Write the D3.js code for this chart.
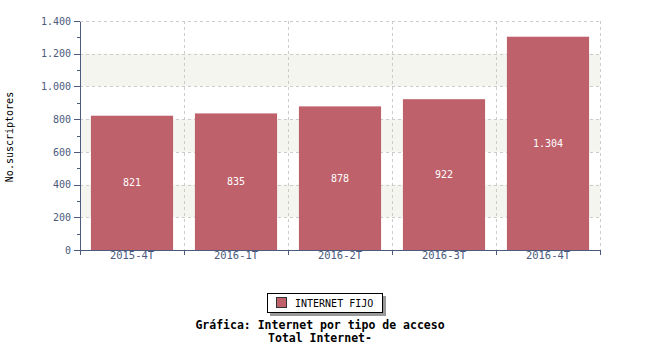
<!DOCTYPE html>
<html>
<head>
<meta charset="utf-8">
<style>
body { margin: 0; background: #fff; }
svg text { font-family: "DejaVu Sans Mono", monospace; }
.axis path, .axis line { stroke: #4b5a7d; shape-rendering: crispEdges; }
.axis text { fill: #4b5a7d; font-size: 10px; }
.grid line { stroke: #cccccc; stroke-dasharray: 3,3; shape-rendering: crispEdges; }
</style>
</head>
<body>
<script src="https://cdn.jsdelivr.net/npm/d3@7"></script>
<script>
var periods = ["2015-4T", "2016-1T", "2016-2T", "2016-3T", "2016-4T"];
var subscribers = [821, 835, 878, 922, 1304];
var yTicks = [0, 200, 400, 600, 800, 1000, 1200, 1400];
var shadedBands = [[200, 400], [600, 800], [1000, 1200]];
var seriesName = "INTERNET FIJO";

var margin = { top: 21, right: 50, bottom: 100, left: 80 };
var width = 650 - margin.left - margin.right;
var height = 350 - margin.top - margin.bottom;

var fmt = function(v) { return d3.format(",")(v).replace(/,/g, "."); };

var svg = d3.select("body").append("svg")
    .attr("width", 650)
    .attr("height", 350);

var g = svg.append("g")
    .attr("transform", "translate(" + margin.left + "," + margin.top + ")");

var x = d3.scaleBand()
  .domain(periods)
  .range([0, width])
  .paddingInner(0.21)
  .paddingOuter(0.105);

var xOuter = d3.scaleBand().domain(periods).range([0, width]);

var y = d3.scaleLinear()
  .domain([0, 1400])
  .range([height, 0]);

// background bands
g.selectAll("rect.band")
  .data(shadedBands)
  .enter().append("rect")
    .attr("class", "band")
    .attr("x", 0)
    .attr("width", width)
    .attr("y", function(d) { return y(d[1]); })
    .attr("height", function(d) { return y(d[0]) - y(d[1]); })
    .style("fill", "#f5f5f0");

// grid
var grid = g.append("g").attr("class", "grid");
grid.selectAll("line.h")
  .data(yTicks.slice(1))
  .enter().append("line")
    .attr("x1", 0).attr("x2", width)
    .attr("y1", function(d) { return Math.round(y(d)) + 0.5; })
    .attr("y2", function(d) { return Math.round(y(d)) + 0.5; });
grid.selectAll("line.v")
  .data(periods)
  .enter().append("line")
    .attr("x1", function(d) { return Math.round(xOuter(d) + xOuter.bandwidth()) + 0.5; })
    .attr("x2", function(d) { return Math.round(xOuter(d) + xOuter.bandwidth()) + 0.5; })
    .attr("y1", 0).attr("y2", height);

// bars
g.selectAll("rect.bar")
  .data(subscribers)
  .enter().append("rect")
    .attr("class", "bar")
    .attr("x", function(d, i) { return x(periods[i]); })
    .attr("width", x.bandwidth())
    .attr("y", function(d) { return y(d); })
    .attr("height", function(d) { return height - y(d); })
    .style("fill", "#bf616b");

g.selectAll("text.val")
  .data(subscribers)
  .enter().append("text")
    .attr("class", "val")
    .attr("x", function(d, i) { return x(periods[i]) + x.bandwidth() / 2; })
    .attr("y", function(d) { return (y(d) + height) / 2; })
    .attr("dy", "0.35em")
    .attr("text-anchor", "middle")
    .style("font-size", "10px")
    .style("fill", "#fff")
    .text(fmt);

// y axis with minor ticks
g.append("g")
  .attr("class", "axis")
  .call(d3.axisLeft(y).tickValues(d3.range(100, 1400, 200)).tickSize(3).tickFormat(""))
  .call(function(s) { s.select(".domain").remove(); });

g.append("g")
  .attr("class", "axis")
  .call(d3.axisLeft(y).tickValues(yTicks).tickSize(6).tickSizeOuter(0).tickFormat(fmt));

// x axis
var xAxis = g.append("g")
  .attr("class", "axis")
  .attr("transform", "translate(0," + height + ")")
  .call(d3.axisBottom(xOuter).tickSize(0).tickSizeOuter(0).tickPadding(2));
xAxis.selectAll("text").style("font-size", "10.5px");
xAxis.selectAll("line.sep")
  .data([0].concat(periods.map(function(d) { return xOuter(d) + xOuter.bandwidth(); })))
  .enter().append("line")
    .attr("class", "sep")
    .attr("x1", function(d) { return Math.round(d) + 0.5; })
    .attr("x2", function(d) { return Math.round(d) + 0.5; })
    .attr("y1", 0).attr("y2", 5);

// y label
svg.append("text")
  .attr("transform", "translate(13,137) rotate(-90)")
  .attr("text-anchor", "middle")
  .style("font-size", "10px")
  .style("fill", "#000")
  .text("No.suscriptores");

// legend
var lg = svg.append("g").attr("transform", "translate(267,293)");
lg.append("rect").attr("x", 3).attr("y", 3).attr("width", 116).attr("height", 20).style("fill", "#999");
lg.append("rect").attr("x", 0.5).attr("y", 0.5).attr("width", 115).attr("height", 19)
  .style("fill", "#fff").style("stroke", "#000");
lg.append("rect").attr("x", 9.5).attr("y", 4.5).attr("width", 10).attr("height", 10)
  .style("fill", "#bf616b").style("stroke", "#333");
lg.append("text").attr("x", 28).attr("y", 10).attr("dy", "0.35em")
  .style("font-size", "10px").text(seriesName);

// titles
svg.append("text")
  .attr("x", 320).attr("y", 329)
  .attr("text-anchor", "middle")
  .style("font-size", "11.5px").style("font-weight", "bold")
  .text("Gráfica: Internet por tipo de acceso");
svg.append("text")
  .attr("x", 320).attr("y", 342)
  .attr("text-anchor", "middle")
  .style("font-size", "11.5px").style("font-weight", "bold")
  .text("Total Internet-");
</script>
</body>
</html>
